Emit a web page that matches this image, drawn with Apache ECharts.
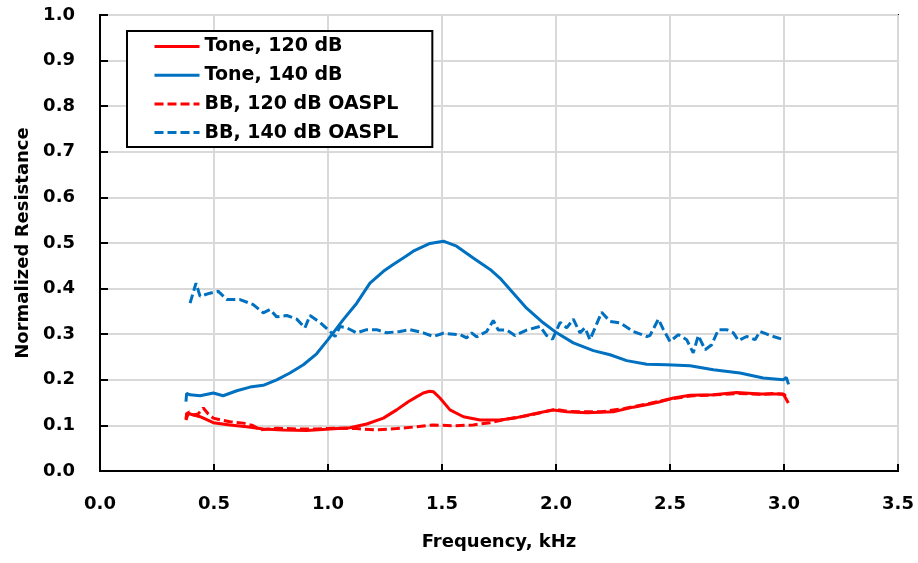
<!DOCTYPE html>
<html>
<head>
<meta charset="utf-8">
<script src="https://cdn.jsdelivr.net/npm/echarts@6/dist/echarts.min.js"></script>
<style>html,body{margin:0;padding:0;background:#fff}#c{width:918px;height:563px}</style>
</head>
<body>
<div id="c"></div>
<script>
var seriesNames = ['Tone, 120 dB', 'Tone, 140 dB', 'BB, 120 dB OASPL', 'BB, 140 dB OASPL'];
var xTicks = [0, 0.5, 1.0, 1.5, 2.0, 2.5, 3.0, 3.5];
var yTicks = [0, 0.1, 0.2, 0.3, 0.4, 0.5, 0.6, 0.7, 0.8, 0.9, 1.0];

var tone120X = [0.377,0.38,0.395,0.439,0.497,0.57,0.643,0.716,0.804,0.906,1.009,1.096,1.17,1.243,1.301,1.352,1.39,1.418,1.445,1.462,1.491,1.535,1.594,1.667,1.754,1.827,1.9,1.988,2.047,2.135,2.251,2.339,2.412,2.456,2.515,2.588,2.69,2.792,2.895,2.997,3.019];
var tone120Y = [0.113,0.127,0.125,0.119,0.106,0.101,0.097,0.092,0.09,0.089,0.092,0.095,0.103,0.116,0.134,0.152,0.163,0.171,0.175,0.174,0.16,0.134,0.119,0.112,0.112,0.117,0.125,0.134,0.13,0.128,0.13,0.14,0.147,0.152,0.16,0.166,0.167,0.172,0.169,0.169,0.149];

var tone140X = [0.377,0.38,0.395,0.439,0.497,0.54,0.6,0.658,0.716,0.775,0.833,0.892,0.95,1.0,1.067,1.126,1.184,1.243,1.286,1.345,1.374,1.447,1.506,1.564,1.637,1.711,1.754,1.813,1.871,1.944,2.003,2.076,2.164,2.237,2.31,2.398,2.485,2.588,2.69,2.807,2.909,2.997,3.01,3.02];
var tone140Y = [0.152,0.17,0.167,0.165,0.171,0.165,0.176,0.184,0.188,0.2,0.215,0.233,0.257,0.288,0.332,0.368,0.412,0.438,0.453,0.472,0.482,0.499,0.504,0.493,0.467,0.442,0.423,0.39,0.357,0.325,0.303,0.281,0.264,0.255,0.242,0.234,0.233,0.231,0.222,0.215,0.204,0.2,0.205,0.19];

var bb120X = [0.377,0.39,0.408,0.43,0.453,0.475,0.497,0.53,0.57,0.629,0.67,0.702,0.775,0.863,0.95,1.038,1.126,1.213,1.301,1.389,1.462,1.55,1.637,1.711,1.784,1.871,1.95,2.0,2.05,2.1,2.2,2.3,2.4,2.5,2.6,2.7,2.8,2.9,2.95,3.0,3.02];
var bb120Y = [0.112,0.13,0.123,0.125,0.138,0.125,0.116,0.112,0.108,0.105,0.1,0.09,0.094,0.092,0.092,0.094,0.093,0.09,0.093,0.097,0.101,0.099,0.101,0.106,0.114,0.121,0.13,0.135,0.131,0.13,0.13,0.137,0.147,0.158,0.165,0.167,0.17,0.168,0.17,0.168,0.158];

var bb140X = [0.395,0.421,0.439,0.482,0.519,0.556,0.614,0.672,0.716,0.746,0.775,0.819,0.863,0.899,0.921,0.965,1.009,1.031,1.053,1.082,1.126,1.17,1.213,1.257,1.316,1.36,1.418,1.462,1.506,1.579,1.608,1.63,1.652,1.696,1.725,1.747,1.784,1.82,1.871,1.93,1.959,1.985,2.018,2.047,2.076,2.105,2.127,2.149,2.2,2.237,2.281,2.339,2.398,2.412,2.449,2.471,2.5,2.537,2.573,2.602,2.624,2.654,2.683,2.712,2.748,2.778,2.8,2.836,2.873,2.895,2.953,3.0];
var bb140Y = [0.368,0.412,0.383,0.39,0.394,0.376,0.376,0.365,0.347,0.354,0.338,0.341,0.333,0.314,0.341,0.326,0.306,0.295,0.317,0.314,0.303,0.31,0.31,0.303,0.306,0.31,0.303,0.295,0.302,0.299,0.292,0.303,0.294,0.306,0.33,0.309,0.309,0.297,0.309,0.317,0.297,0.289,0.326,0.314,0.333,0.303,0.314,0.288,0.348,0.328,0.325,0.306,0.295,0.297,0.333,0.31,0.284,0.299,0.288,0.259,0.297,0.266,0.277,0.31,0.31,0.303,0.286,0.295,0.288,0.306,0.295,0.288];

function pairs(xs, ys) {
  var out = [], n = Math.min(xs.length, ys.length);
  for (var i = 0; i < n; i++) out.push([xs[i], ys[i]]);
  return out;
}

var FONT = '"DejaVu Sans", sans-serif';
var RED = '#ff0000', BLUE = '#0070c0';

function mkSeries(name, xs, ys, color, dashed) {
  return {
    name: name, type: 'line', data: pairs(xs, ys), symbol: 'none', smooth: false,
    lineStyle: { color: color, width: 3, type: dashed ? [9, 4] : 'solid' },
    itemStyle: { color: color },
    animation: false
  };
}

var chart = echarts.init(document.getElementById('c'));
chart.setOption({
  animation: false,
  grid: { left: 100, right: 20, top: 15, bottom: 92, show: true, borderColor: '#000', borderWidth: 2, backgroundColor: 'transparent' },
  legend: {
    orient: 'vertical', left: 127, top: 31,
    data: seriesNames,
    itemWidth: 45, itemHeight: 14, itemGap: 7.7,
    padding: [5, 34, 4, 26],
    borderColor: '#000', borderWidth: 2, backgroundColor: '#fff',
    itemStyle: { opacity: 0 },
    lineStyle: { width: 3 },
    textStyle: { fontFamily: FONT, fontWeight: 'bold', fontSize: 19, color: '#000', lineHeight: 21 }
  },
  xAxis: {
    type: 'value', min: xTicks[0], max: xTicks[xTicks.length - 1], interval: 0.5,
    name: 'Frequency, kHz', nameLocation: 'middle', nameGap: 62,
    nameTextStyle: { fontFamily: FONT, fontWeight: 'bold', fontSize: 18, color: '#000' },
    axisLine: { show: true, lineStyle: { color: '#000', width: 2 } },
    axisTick: { show: true, inside: true, length: 7, lineStyle: { color: '#000', width: 2 } },
    axisLabel: { fontFamily: FONT, fontWeight: 'bold', fontSize: 18, color: '#000', margin: 24, formatter: function (v) { return v.toFixed(1); } },
    splitLine: { show: true, lineStyle: { color: '#d9d9d9', width: 2 } }
  },
  yAxis: {
    type: 'value', min: yTicks[0], max: yTicks[yTicks.length - 1], interval: 0.1,
    name: 'Normalized Resistance', nameLocation: 'middle', nameGap: 60, nameRotate: 90,
    nameTextStyle: { fontFamily: FONT, fontWeight: 'bold', fontSize: 18, color: '#000' },
    axisLine: { show: true, lineStyle: { color: '#000', width: 2 } },
    axisTick: { show: true, inside: true, length: 8, lineStyle: { color: '#000', width: 2 } },
    axisLabel: { fontFamily: FONT, fontWeight: 'bold', fontSize: 18, color: '#000', margin: 25, formatter: function (v) { return v.toFixed(1); } },
    splitLine: { show: true, lineStyle: { color: '#d9d9d9', width: 2 } }
  },
  series: [
    mkSeries(seriesNames[0], tone120X, tone120Y, RED, false),
    mkSeries(seriesNames[1], tone140X, tone140Y, BLUE, false),
    mkSeries(seriesNames[2], bb120X, bb120Y, RED, true),
    mkSeries(seriesNames[3], bb140X, bb140Y, BLUE, true)
  ]
});
</script>
</body>
</html>
